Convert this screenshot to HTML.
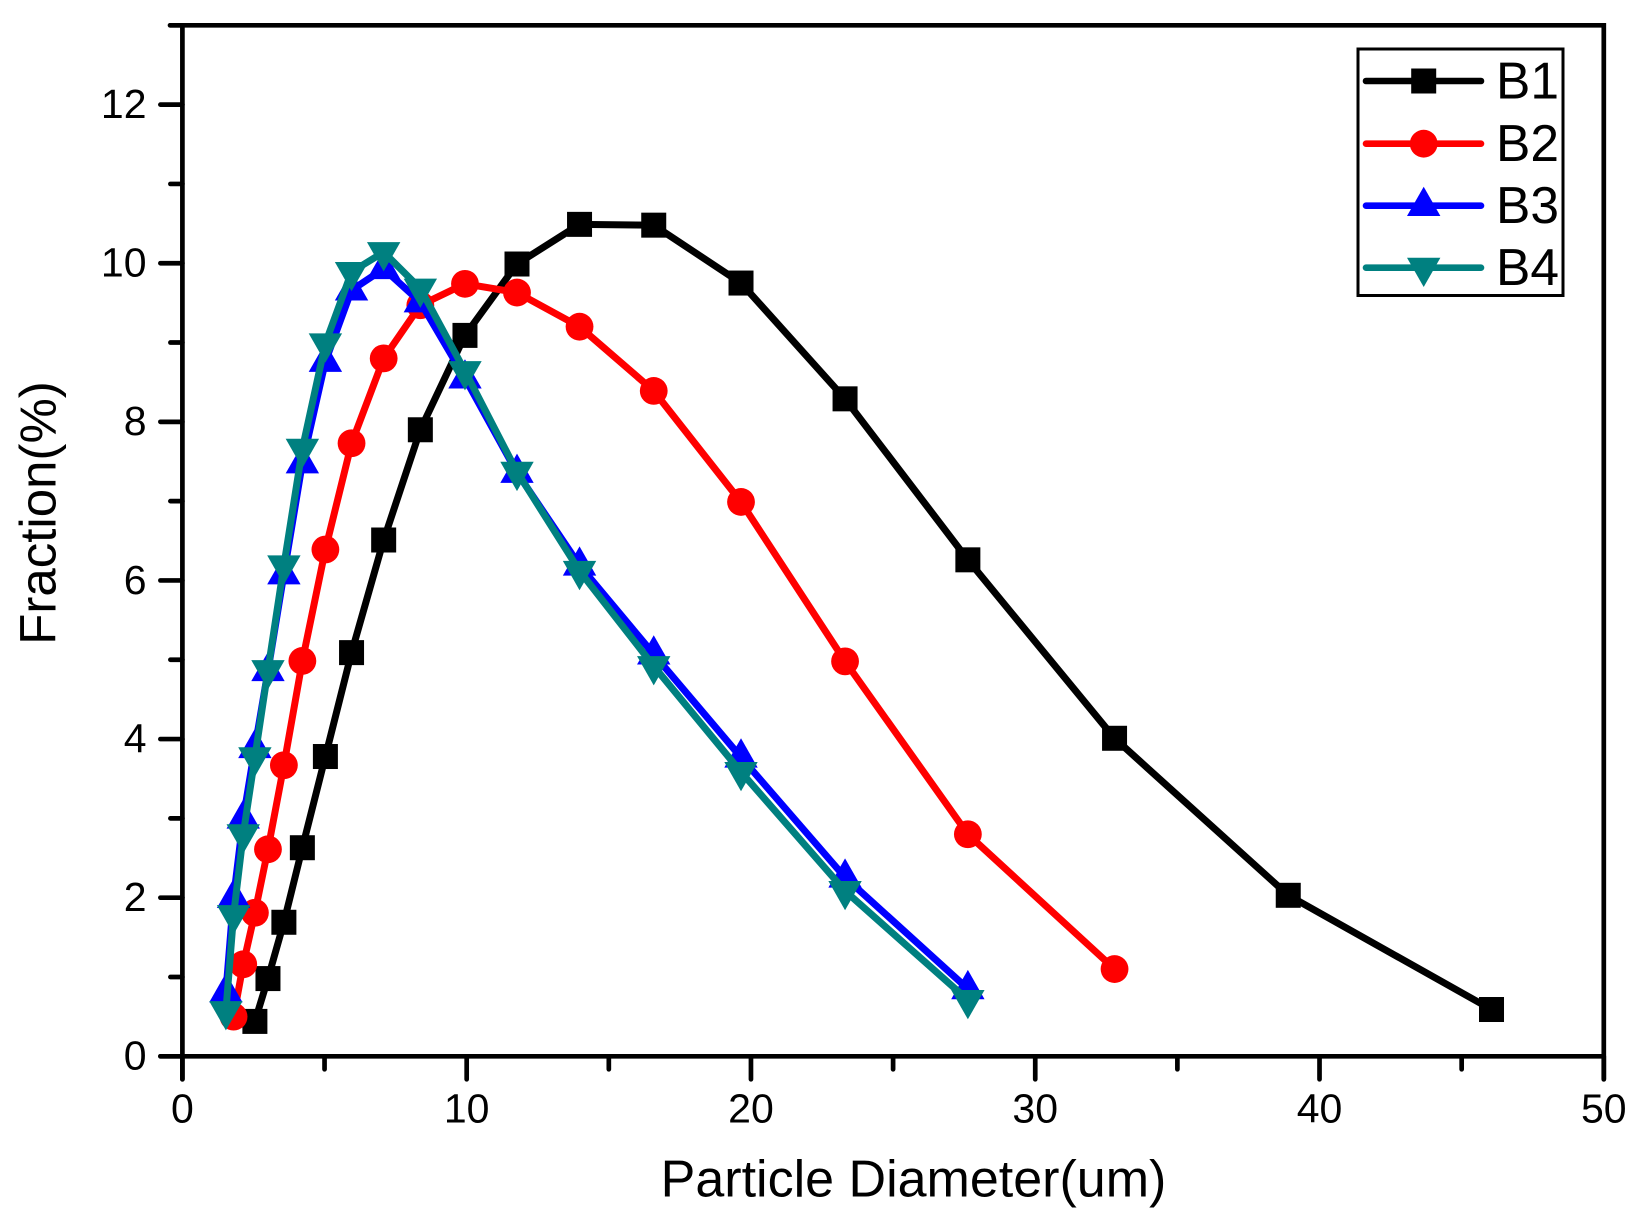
<!DOCTYPE html>
<html>
<head>
<meta charset="utf-8">
<title>Particle size distribution</title>
<style>
html,body{margin:0;padding:0;background:#fff;}
#chart{display:block;}
text{font-family:"Liberation Sans",Arial,sans-serif;fill:#000;}
</style>
</head>
<body>
<svg id="chart" xmlns="http://www.w3.org/2000/svg" width="1649" height="1224" viewBox="0 0 1649 1224"></svg>
<script>
const sizes = [1.53,1.8,2.14,2.55,3.01,3.57,4.22,5.03,5.95,7.08,8.37,9.94,11.77,13.97,16.58,19.65,23.31,27.63,32.79,38.9,46.05];
const seriesNames = ["B1","B2","B3","B4"];
const b1Sizes = sizes.slice(3);
const b1Values = [0.44,0.98,1.69,2.63,3.78,5.09,6.51,7.9,9.09,9.99,10.49,10.48,9.75,8.29,6.26,4.01,2.03,0.59];
const b2Sizes = sizes.slice(1,19);
const b2Values = [0.5,1.16,1.81,2.61,3.67,4.985,6.39,7.73,8.8,9.47,9.74,9.63,9.2,8.39,6.99,4.98,2.8,1.1];
const b3Sizes = sizes.slice(0,18);
const b3Values = [0.81,2.0,3.0,3.89,4.86,6.08,7.48,8.76,9.66,9.93,9.51,8.55,7.36,6.19,5.07,3.77,2.256,0.85];
const b4Sizes = sizes.slice(0,18);
const b4Values = [0.57,1.78,2.8,3.77,4.87,6.19,7.66,8.99,9.89,10.14,9.68,8.64,7.37,6.12,4.92,3.585,2.085,0.71];
const xTickLabels = [0,10,20,30,40,50];
const yTickLabels = [0,2,4,6,8,10,12];
const xMinorTicks = [5,15,25,35,45];
const yMinorTicks = [1,3,5,7,9,11,13];

const svg = document.getElementById('chart');
const NS = 'http://www.w3.org/2000/svg';
const X0 = 182.4, X1 = 1603.8, Y0 = 1056.3, Y1 = 25.3;
function xs(v){ return X0 + (v/50)*(X1-X0); }
function ys(v){ return Y0 - (v/13)*(Y0-Y1); }
function mk(tag, attrs, parent){
  const e = document.createElementNS(NS, tag);
  for (const k in attrs) e.setAttribute(k, attrs[k]);
  (parent||svg).appendChild(e);
  return e;
}
const AW = 4.7;

function marker(kind, cx, cy, color, parent){
  let e;
  if (kind === 'square') {
    e = mk('rect',{x:cx-12.5,y:cy-12.5,width:25,height:25,fill:color},parent);
  } else if (kind === 'circle') {
    e = mk('circle',{cx:cx,cy:cy,r:13.9,fill:color},parent);
  } else if (kind === 'up') {
    e = mk('polygon',{points:(cx)+','+(cy-19)+' '+(cx+16.7)+','+(cy+10.3)+' '+(cx-16.7)+','+(cy+10.3),fill:color},parent);
  } else {
    e = mk('polygon',{points:(cx)+','+(cy+19.3)+' '+(cx+16.7)+','+(cy-10)+' '+(cx-16.7)+','+(cy-10),fill:color},parent);
  }
  return e;
}

const axes = mk('g',{});



const frame = mk('path',{d:'M'+X0+' '+(Y0+23)+'L'+X0+' '+Y1+'M170 '+Y1+'L'+X1+' '+Y1+'L'+X1+' '+(Y0+23)+'M'+(X0-22)+' '+Y0+'L'+X1+' '+Y0,fill:'none',stroke:'#000','stroke-width':AW,'stroke-linecap':'round','stroke-linejoin':'miter'},axes);



xTickLabels.forEach(function(v){
  const t = mk('line',{x1:xs(v),x2:xs(v),y1:Y0,y2:Y0+23,stroke:'#000','stroke-width':AW,'stroke-linecap':'round'},axes);
  
  
  const l = mk('text',{x:xs(v),y:1122.5,'text-anchor':'middle','font-size':41},axes);
  l.textContent = v;
  
  
});
xMinorTicks.forEach(function(v){
  const t = mk('line',{x1:xs(v),x2:xs(v),y1:Y0,y2:Y0+13,stroke:'#000','stroke-width':AW,'stroke-linecap':'round'},axes);
  
  
});
yTickLabels.forEach(function(v){
  const t = mk('line',{x1:X0-22,x2:X0,y1:ys(v),y2:ys(v),stroke:'#000','stroke-width':AW,'stroke-linecap':'round'},axes);
  
  
  const l = mk('text',{x:146.5,y:ys(v)+13.4,'text-anchor':'end','font-size':41},axes);
  l.textContent = v;
  
  
});
yMinorTicks.forEach(function(v){
  const t = mk('line',{x1:X0-12,x2:X0,y1:ys(v),y2:ys(v),stroke:'#000','stroke-width':AW,'stroke-linecap':'round'},axes);
  
  
});

const xTitle = mk('text',{x:913.5,y:1196.5,'text-anchor':'middle','font-size':52});
xTitle.textContent = 'Particle Diameter(um)';



const yTitle = mk('text',{x:0,y:0,'text-anchor':'middle','font-size':51,transform:'translate(55.5,513) rotate(-90)'});
yTitle.textContent = 'Fraction(%)';



const kinds = ['square','circle','up','down'];
const colors = ['#000000','#ff0000','#0000ff','#008080'];
const allSizes = [b1Sizes,b2Sizes,b3Sizes,b4Sizes];
const allValues = [b1Values,b2Values,b3Values,b4Values];

seriesNames.forEach(function(name,i){
  const g = mk('g',{});
  
  
  const pts = allValues[i].map(function(v,j){ return xs(allSizes[i][j]).toFixed(2)+','+ys(v).toFixed(2); }).join(' ');
  const line = mk('polyline',{points:pts,fill:'none',stroke:colors[i],'stroke-width':7,'stroke-linejoin':'round'},g);
  
  
  allValues[i].forEach(function(v,j){
    const m = marker(kinds[i], xs(allSizes[i][j]), ys(v), colors[i], g);
    
    
  });
});

const legend = mk('g',{});


const box = mk('rect',{x:1358,y:49,width:205,height:246.5,fill:'none',stroke:'#000','stroke-width':3},legend);


const legendY = [81,143.7,205.7,267.7];
seriesNames.forEach(function(name,i){
  const g = mk('g',{},legend);
  
  
  mk('line',{x1:1366,x2:1481,y1:legendY[i],y2:legendY[i],stroke:colors[i],'stroke-width':6.6,'stroke-linecap':'round'},g);
  marker(kinds[i],1423.7,legendY[i],colors[i],g);
  const t = mk('text',{x:1496,y:legendY[i]+17.3,'font-size':51.5},g);
  t.textContent = name;
  
  
});
</script>
</body>
</html>
